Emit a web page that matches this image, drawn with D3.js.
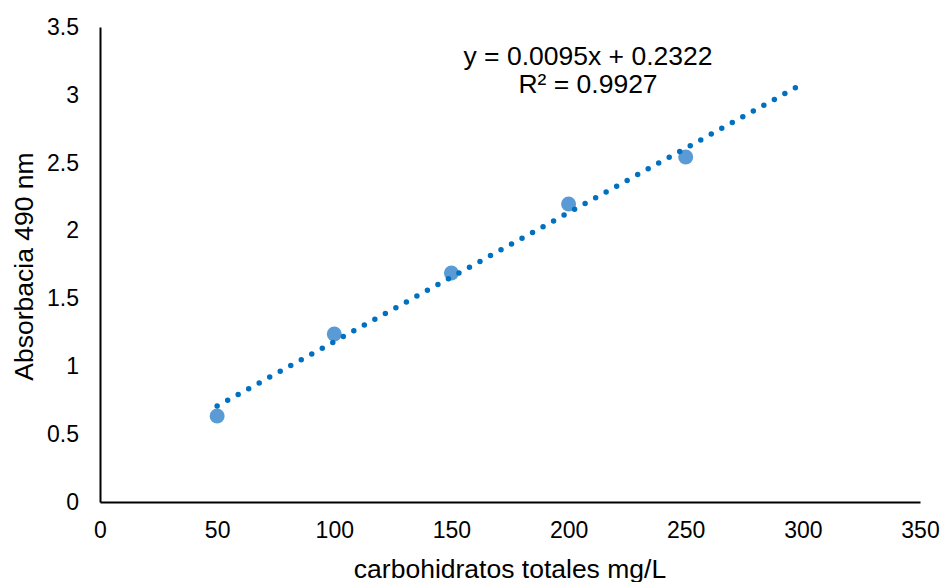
<!DOCTYPE html>
<html>
<head>
<meta charset="utf-8">
<script src="https://cdn.jsdelivr.net/npm/d3@7"></script>
<style>
  body { margin: 0; background: #fff; }
  text { font-family: "Liberation Sans", Arial, sans-serif; fill: #000; }
</style>
</head>
<body>
<div id="chart"></div>
<script>
// Calibration data
const concentrations = [50, 100, 150, 200, 250];
const absorbance = [0.634, 1.238, 1.687, 2.196, 2.542];
const xTicks = [0, 50, 100, 150, 200, 250, 300, 350];
const yTicks = [0, 0.5, 1, 1.5, 2, 2.5, 3, 3.5];
const slope = 0.0095;
const intercept = 0.2322;
const trendRange = [50, 300];
const equationLines = ["y = 0.0095x + 0.2322", "R² = 0.9927"];

const width = 945, height = 582;
const margin = { top: 27, right: 25, bottom: 80, left: 100 };

const svg = d3.select("#chart").append("svg")
    .attr("width", width)
    .attr("height", height);

const x = d3.scaleLinear().domain([0, 350]).range([margin.left, width - margin.right]);
const y = d3.scaleLinear().domain([0, 3.5]).range([height - margin.bottom, margin.top]);

// Axes (no tick marks, just lines and labels)
const xAxis = svg.append("g")
    .attr("transform", `translate(0,${y(0)})`)
    .call(d3.axisBottom(x).tickValues(xTicks).tickSize(0).tickPadding(20).tickFormat(d3.format("")));
xAxis.select(".domain").attr("stroke", "#000").attr("stroke-width", 2);
xAxis.selectAll("text").style("font-size", "23px").attr("fill", "#000");

const yAxis = svg.append("g")
    .attr("transform", `translate(${x(0)},0)`)
    .call(d3.axisLeft(y).tickValues(yTicks).tickSize(0).tickPadding(21).tickFormat(d3.format("")));
yAxis.select(".domain").attr("stroke", "#000").attr("stroke-width", 2);
yAxis.selectAll("text").style("font-size", "23px").attr("fill", "#000");

// Axis titles (bottom one runs off the edge, as in the original)
svg.append("text")
    .attr("x", x(175))
    .attr("y", 578)
    .attr("text-anchor", "middle")
    .style("font-size", "26.5px")
    .text("carbohidratos totales mg/L");

svg.append("text")
    .attr("transform", `translate(33,${y(1.75) + 2}) rotate(-90)`)
    .attr("text-anchor", "middle")
    .style("font-size", "26.5px")
    .text("Absorbacia 490 nm");

// Data points
svg.append("g").selectAll("circle")
    .data(concentrations)
    .join("circle")
    .attr("cx", d => x(d))
    .attr("cy", (d, i) => y(absorbance[i]))
    .attr("r", 7.5)
    .attr("fill", "#5B9BD5");

// Linear trendline, dotted
svg.append("line")
    .attr("x1", x(trendRange[0]))
    .attr("y1", y(slope * trendRange[0] + intercept))
    .attr("x2", x(trendRange[1]))
    .attr("y2", y(slope * trendRange[1] + intercept))
    .attr("stroke", "#0070C0")
    .attr("stroke-width", 5.5)
    .attr("stroke-linecap", "round")
    .attr("stroke-dasharray", "0,12");

// Equation label
equationLines.forEach((t, i) => {
    svg.append("text")
        .attr("x", 588)
        .attr("y", 65 + i * 28)
        .attr("text-anchor", "middle")
        .style("font-size", "26.5px")
        .text(t);
});
</script>
</body>
</html>
